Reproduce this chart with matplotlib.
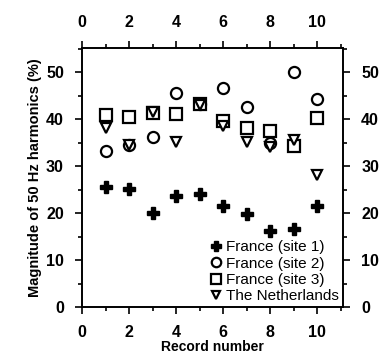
import numpy as np
import matplotlib
matplotlib.use("Agg")
import matplotlib.pyplot as plt
from matplotlib.ticker import MultipleLocator

plt.rcParams["font.family"] = ["Liberation Sans", "DejaVu Sans"]

# harmonic magnitude per record, four measurement sites
record = [1, 2, 3, 4, 5, 6, 7, 8, 9, 10]
site1 = [25.6, 25.2, 20.1, 23.7, 24.0, 21.5, 19.9, 16.3, 16.7, 21.5]
site2 = [33.2, 34.5, 36.2, 45.6, 43.2, 46.7, 42.7, 35.0, 50.0, 44.3]
site3 = [40.9, 40.4, 41.3, 41.2, 43.3, 39.7, 38.2, 37.4, 34.2, 40.2]
nl = [38.1, 34.6, 41.5, 35.2, 43.0, 38.6, 35.2, 34.0, 35.6, 28.2]
labels = ["France (site 1)", "France (site 2)", "France (site 3)", "The Netherlands"]

fig = plt.figure(figsize=(3.85, 3.6), dpi=100)
ax = fig.add_axes([0.213, 0.147, 0.678, 0.72])

ax.plot(record, site1, "P", ms=9, color="black", mec="black", label=labels[0])
ax.plot(record, site2, "o", ms=8, mfc="white", mec="black", mew=1.6, label=labels[1])
ax.plot(record, site3, "s", ms=8, mfc="white", mec="black", mew=1.6, label=labels[2])
ax.plot(record, nl, "v", ms=7, mfc="white", mec="black", mew=1.6, label=labels[3])

ax.set_xlim(0, 11.1)
ax.set_ylim(0, 55.2)
ax.xaxis.set_major_locator(MultipleLocator(2))
ax.xaxis.set_minor_locator(MultipleLocator(1))
ax.yaxis.set_major_locator(MultipleLocator(10))
ax.yaxis.set_minor_locator(MultipleLocator(5))
ax.tick_params(which="both", direction="out", top=True, right=True,
               labeltop=True, labelright=True, width=1.2)
ax.tick_params(which="major", length=5, labelsize=11.5, pad=8)
ax.tick_params(which="minor", length=3)
for t in ax.xaxis.get_ticklabels(which="major") + ax.yaxis.get_ticklabels(which="major"):
    t.set_fontweight("bold")
for s in ax.spines.values():
    s.set_linewidth(1.4)

ax.set_xlabel("Record number", fontsize=10, fontweight="bold", labelpad=0)
ax.set_ylabel("Magnitude of 50 Hz harmonics (%)", fontsize=10.5, fontweight="bold", labelpad=3)

leg = ax.legend(loc="lower right", frameon=False, fontsize=11, handletextpad=0.2,
                labelspacing=0.15, borderaxespad=0.15, handlelength=0.9,
                borderpad=0.1, markerscale=0.85)

fig.savefig("out.png", dpi=100)
